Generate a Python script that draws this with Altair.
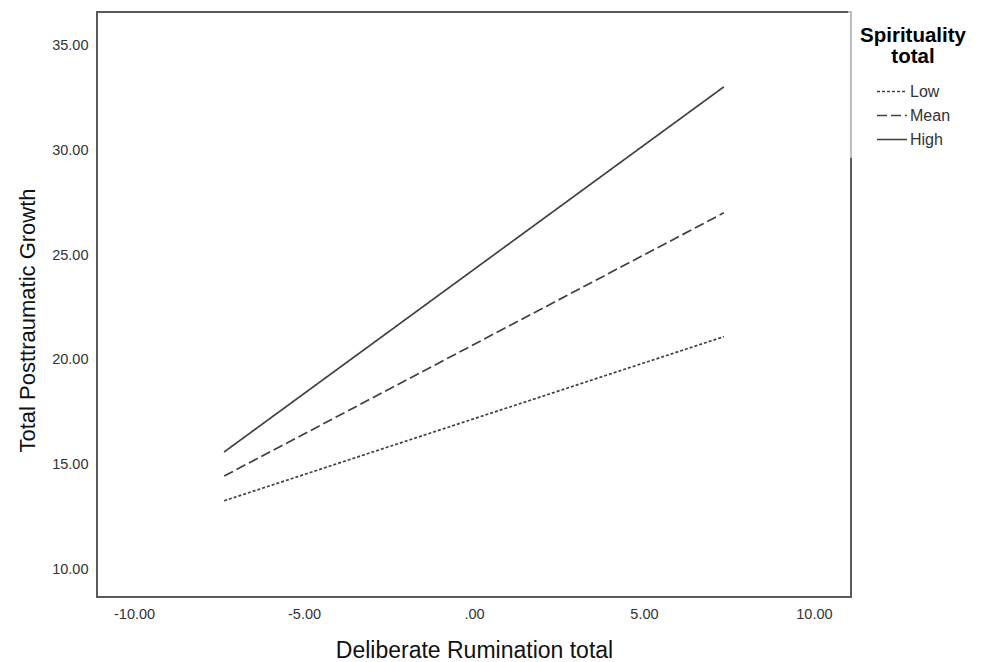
import altair as alt
import pandas as pd

levels = ["Low", "Mean", "High"]
x_ends = [-7.35, 7.35]
low_vals = [13.28, 21.11]
mean_vals = [14.46, 27.02]
high_vals = [15.61, 33.03]
x_ticks = [-10, -5, 0, 5, 10]
y_ticks = [10, 15, 20, 25, 30, 35]

rows = []
for lvl, vals in zip(levels, [low_vals, mean_vals, high_vals]):
    for i, (x, y) in enumerate(zip(x_ends, vals)):
        rows.append({"rumination": x, "ptg": y, "spirituality": lvl, "order": i})
df = pd.DataFrame(rows)

FONT = "Liberation Sans"

lines = alt.Chart(df).mark_line(color="#404040", strokeWidth=1.7).encode(
    x=alt.X(
        "rumination:Q",
        scale=alt.Scale(domain=[-11.09, 11.09], nice=False, zero=False),
        axis=alt.Axis(
            values=x_ticks,
            title="Deliberate Rumination total",
            labelExpr="datum.value == 0 ? '.00' : replace(format(datum.value, '.2f'), '\u2212', '-')",
            ticks=False,
            domain=False,
            grid=False,
            labelPadding=10,
            labelFontSize=14.5,
            labelColor="#333333",
            titleFontSize=23,
            titleFontWeight="normal",
            titleColor="#111111",
            titleBaseline="alphabetic",
            titleY=60,
        ),
    ),
    y=alt.Y(
        "ptg:Q",
        scale=alt.Scale(domain=[8.69, 36.6], nice=False, zero=False),
        axis=alt.Axis(
            values=y_ticks,
            title="Total Posttraumatic Growth",
            format=".2f",
            ticks=False,
            domain=False,
            grid=False,
            labelPadding=9,
            labelFontSize=14.5,
            labelColor="#333333",
            titleFontSize=22,
            titleFontWeight="normal",
            titleColor="#111111",
            titleBaseline="alphabetic",
            titleAlign="center",
            titleX=-63,
            titleY=308,
        ),
    ),
    strokeDash=alt.StrokeDash(
        "spirituality:N",
        scale=alt.Scale(domain=levels, range=[[3, 2], [10, 4], [1, 0]]),
        legend=alt.Legend(
            title=["Spirituality", "total"],
            orient="none",
            legendX=763,
            legendY=14,
            titleFontSize=20.5,
            titleFontWeight="bold",
            titleColor="#000000",
            titleAlign="center",
            titleAnchor="middle",
            titleLineHeight=21,
            titlePadding=8,
            labelFontSize=16,
            labelColor="#333333",
            labelOffset=2,
            symbolType="stroke",
            symbolSize=900,
            symbolStrokeWidth=1.7,
            symbolStrokeColor="#404040",
            rowPadding=-12,
            padding=0,
        ),
    ),
    order="order:Q",
)

shade = alt.Chart(pd.DataFrame({"a": [0]})).mark_rect(fill="white", opacity=0.6).encode(
    x=alt.value(751), x2=alt.value(760), y=alt.value(-6), y2=alt.value(146)
)

chart = alt.layer(lines, shade).properties(
    width=754,
    height=585,
    padding={"left": 89, "top": 4, "right": 125, "bottom": 65},
    autosize=alt.AutoSizeParams(type="none"),
).configure(
    font=FONT,
).configure_view(
    stroke="#5a5a5a",
    strokeWidth=2,
)

chart.save("out.html", embed_options={"renderer": "svg", "actions": False})
